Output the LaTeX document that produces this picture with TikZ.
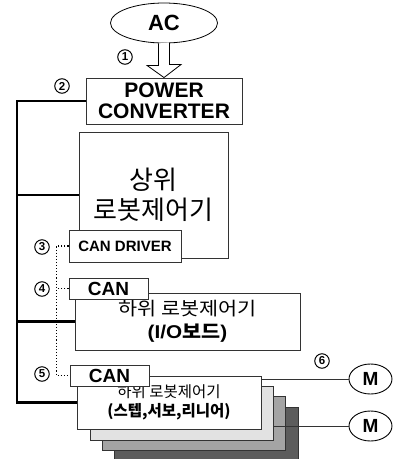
\documentclass[tikz,border=0pt]{standalone}
\usepackage{fontspec}
\setmainfont{Liberation Sans}
\newfontfamily\kr{Noto Sans CJK KR}
\usetikzlibrary{shapes.geometric}
\definecolor{gA}{HTML}{E2E2E2}
\definecolor{gB}{HTML}{A4A4A4}
\definecolor{gC}{HTML}{5C5C5C}
\definecolor{edge}{HTML}{333333}
\begin{document}
\begin{tikzpicture}[x=1pt,y=-1pt,
  box/.style={draw=edge, line width=0.9pt, fill=white, inner sep=0pt, align=center},
  bus/.style={line width=2.8pt, line join=miter},
  num/.style={circle, draw, line width=1pt, minimum size=14.5pt, inner sep=0pt, font=\bfseries\fontsize{11.5}{11.5}\selectfont},
  dots/.style={dotted, line width=1.1pt},
  wire/.style={line width=0.9pt, draw=edge},
  mot/.style={ellipse, draw, line width=0.9pt, minimum width=43pt, minimum height=30pt, inner sep=0pt, fill=white, font=\bfseries\fontsize{19}{19}\selectfont}
]
\useasboundingbox (0,0) rectangle (394,459);

% AC source and power converter
\node[ellipse, draw, line width=0.8pt, minimum width=107pt, minimum height=40pt, inner sep=0pt,
      font=\bfseries\fontsize{22}{22}\selectfont] (ac) at (164,23) {AC};
\node[box, minimum width=156pt, minimum height=46pt, font=\bfseries\fontsize{21}{21}\selectfont] (pc) at (164,101) {POWER\\CONVERTER};
\draw[line width=0.8pt, fill=white, line join=miter] (ac.south) ++(-5.5,0) -- ++(0,22) -- ++(-11.5,0) -- (pc.north)
   -- ++(17,-13) -- ++(-11.5,0) -- ++(0,-22);

% upper controller
\node[box, minimum width=149pt, minimum height=126pt, font=\kr\fontsize{26}{30}\selectfont] (upper) at (153.5,195) {상위\\로봇제어기};
\node[box, minimum width=112pt, minimum height=32pt, font=\bfseries\fontsize{15}{15}\selectfont] (drv) at (125,246) {CAN DRIVER};

% I/O board
\node[box, minimum width=225pt, minimum height=57pt, font=\kr\fontsize{18.5}{23}\selectfont] (io) at (187.5,321.5)
  {\scalebox{1.12}[1]{하위 로봇제어기}\\\scalebox{1.12}[1]{\bfseries\rmfamily(I/O{\kr 보드})}};
\node[box, minimum width=79pt, minimum height=21pt, font=\bfseries\fontsize{19}{19}\selectfont] (can4) at (108.5,288.5) {CAN};

% stacked motor controllers
\node[box, fill=gC, minimum width=184pt, minimum height=55pt] (s3) at (206,434.5) {};
\node[box, fill=gB, minimum width=183pt, minimum height=54pt] (s2) at (193.5,423) {};
\node[box, fill=gA, minimum width=183pt, minimum height=54pt] (s1) at (181.5,413) {};
\node[box, minimum width=184pt, minimum height=53pt, font=\kr\fontsize{15.5}{19}\selectfont] (front) at (169,402.5)
  {하위 로봇제어기\\{\bfseries\fontsize{15.5}{19}\selectfont(스텝,서보,리니어)}};
\node[box, minimum width=79pt, minimum height=21pt, font=\bfseries\fontsize{19}{19}\selectfont] (can5) at (109.5,375.5) {CAN};

% motors
\node[mot] (m1) at (370.5,379) {M};
\node[mot] (m2) at (370.5,426) {M};
\draw[wire] (m1.west -| front.east) -- (m1.west);
\draw[wire] (m2.west -| s1.east) -- (m2.west);

% power bus
\coordinate (bt) at (17,101);
\draw[bus] (pc.west) -- (bt) |- (front.west);
\draw[bus] (upper.west) -- (upper.west -| bt);
\draw[bus] (io.west) -- (io.west -| bt);

% CAN bus
\draw[dots] (drv.west) -- ++(-12,0) |- (can5.west);
\draw[dots] (can4.west) -- ++(-12,0);

% numbers
\node[num] (n1) at (125,57) {1};
\node[num] (n2) at (62,86) {2};
\node[num] (n3) at (42,247) {3};
\node[num] (n4) at (42,289) {4};
\node[num] (n5) at (42,374) {5};
\node[num] (n6) at (322,361) {6};
\end{tikzpicture}
\end{document}
